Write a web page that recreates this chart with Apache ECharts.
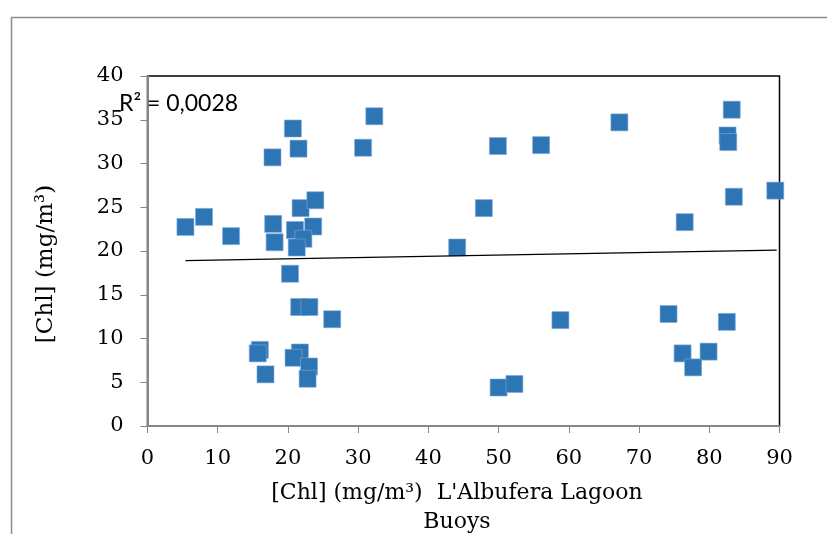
<!DOCTYPE html>
<html>
<head>
<meta charset="utf-8">
<script src="https://cdn.jsdelivr.net/npm/echarts@6/dist/echarts.min.js"></script>
<style>html,body{margin:0;padding:0;background:#fff}#c{width:827px;height:534px}</style>
</head>
<body>
<div id="c"></div>
<script>
// Lagoon [Chl] (x) vs buoys [Chl] (y), mg/m3
var xValues = [5.4, 8.05, 11.9, 17.8, 17.9, 18.1, 20.7, 21.5, 21.8, 23.9, 23.6, 21.0, 22.2, 21.25, 20.3, 21.6, 23.05, 26.3, 16.0, 15.7, 16.8, 21.7, 20.8, 23.0, 22.8, 30.7, 32.3, 44.1, 47.9, 49.9, 56.05, 50.0, 52.25, 58.8, 67.2, 76.5, 82.6, 82.7, 83.2, 83.5, 89.4, 74.2, 82.5, 76.2, 79.9, 77.7];
var yValues = [22.75, 23.9, 21.7, 30.7, 23.1, 21.0, 34.0, 31.7, 24.9, 25.8, 22.8, 22.4, 21.4, 20.4, 17.4, 13.6, 13.6, 12.2, 8.7, 8.3, 5.9, 8.4, 7.8, 6.8, 5.4, 31.8, 35.4, 20.4, 24.9, 32.0, 32.1, 4.4, 4.8, 12.1, 34.7, 23.3, 33.2, 32.45, 36.15, 26.2, 26.9, 12.8, 11.9, 8.3, 8.5, 6.7];
var trendX = [5.4, 89.6];
var trendY = [18.9, 20.1];
var xTicks = [0, 10, 20, 30, 40, 50, 60, 70, 80, 90];
var yTicks = [0, 5, 10, 15, 20, 25, 30, 35, 40];
var r2Label = 'R² = 0,0028';

var points = xValues.map(function (x, i) { return [x, yValues[i]]; });
var trend = trendX.map(function (x, i) { return [x, trendY[i]]; });

var serif = 'DejaVu Serif';
var chart = echarts.init(document.getElementById('c'), null, {renderer: 'canvas'});
chart.setOption({
  backgroundColor: '#fff',
  animation: false,
  grid: {left: 147.5, top: 76, right: 47.5, bottom: 108, containLabel: false, outerBoundsMode: 'none',
         show: true, borderColor: '#000', borderWidth: 1.5, backgroundColor: 'transparent'},
  xAxis: {
    type: 'value', min: xTicks[0], max: xTicks[xTicks.length - 1], interval: 10,
    splitLine: {show: false},
    axisLine: {show: true, onZero: false, lineStyle: {color: '#868686', width: 2}},
    axisTick: {show: true, inside: false, length: 7, lineStyle: {color: '#868686', width: 1}},
    axisLabel: {color: '#000', fontFamily: serif, fontSize: 21, margin: 22},
    name: "[Chl] (mg/m³)  L'Albufera Lagoon\nBuoys",
    nameLocation: 'middle', nameGap: 53,
    nameTextStyle: {color: '#000', fontFamily: serif, fontSize: 22, lineHeight: 29, padding: [0, 13, 0, 0]}
  },
  yAxis: {
    type: 'value', min: yTicks[0], max: yTicks[yTicks.length - 1], interval: 5,
    splitLine: {show: false},
    axisLine: {show: true, onZero: false, lineStyle: {color: '#868686', width: 2}},
    axisTick: {show: true, inside: false, length: 7, lineStyle: {color: '#868686', width: 1}},
    axisLabel: {color: '#000', fontFamily: serif, fontSize: 21, margin: 24},
    name: '[Chl] (mg/m³)', nameLocation: 'middle', nameGap: 90, nameRotate: 90,
    nameTextStyle: {color: '#000', fontFamily: serif, fontSize: 23, padding: [0, 26, 0, 0]}
  },
  graphic: [
    {type: 'rect', left: 9, top: 15, shape: {width: 840, height: 540}, style: {fill: 'none', stroke: '#8c8c8c', lineWidth: 1.5}, silent: true, z: -10},
    {type: 'text', x: 119, y: 104, z: 1, style: {text: r2Label, fontFamily: 'Lato', fontSize: 23, fill: '#000', verticalAlign: 'middle', align: 'left'}}
  ],
  series: [
    {type: 'scatter', data: points, symbol: 'rect', symbolSize: 17,
     itemStyle: {color: '#2E75B6', borderColor: '#7FA9D6', borderWidth: 0.6, opacity: 1}, z: 3},
    {type: 'line', data: trend, symbol: 'none', lineStyle: {color: '#000', width: 1.5}, z: 4, silent: true}
  ]
});
</script>
</body>
</html>
